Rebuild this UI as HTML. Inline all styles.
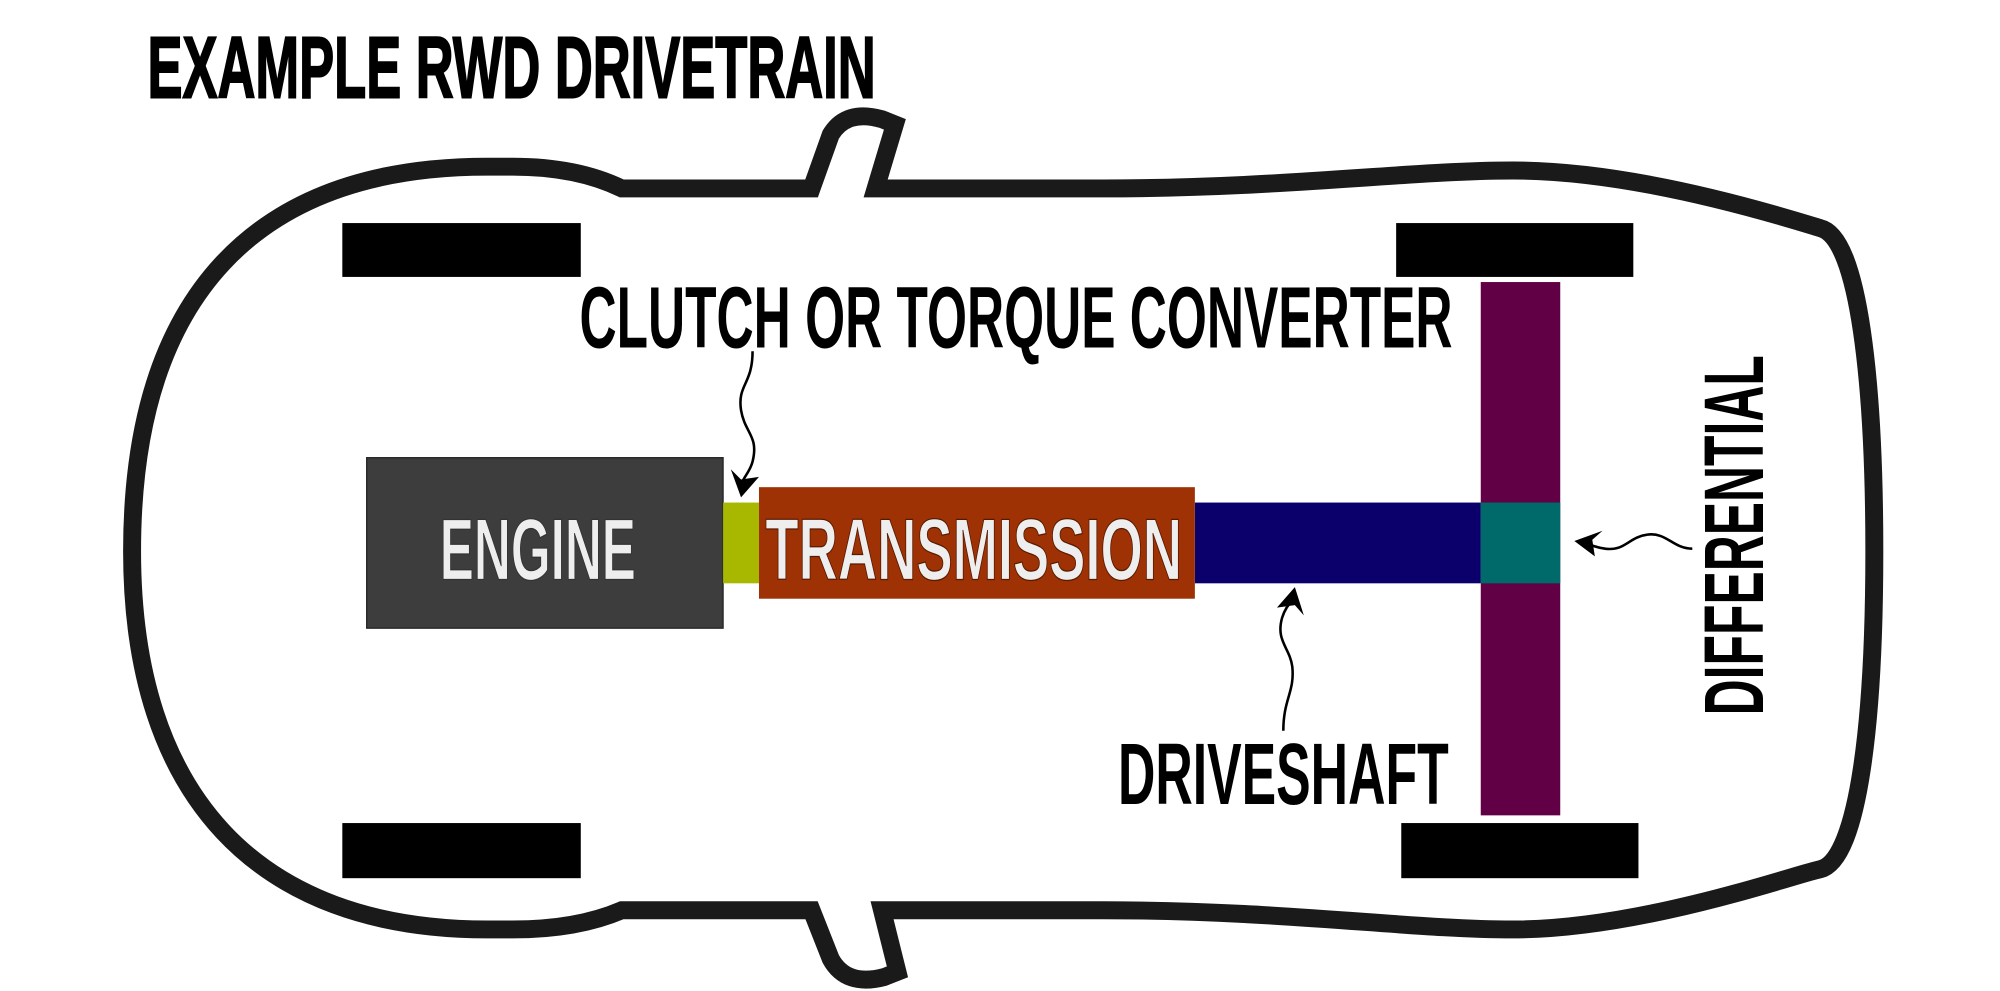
<!DOCTYPE html>
<html><head><meta charset="utf-8"><style>
html,body{margin:0;padding:0;background:#fff;width:2000px;height:991px;overflow:hidden}
svg{display:block}
text{font-family:"Liberation Sans Narrow","Liberation Sans",sans-serif}
</style></head><body>
<svg width="2000" height="991" viewBox="0 0 1560 773" xmlns="http://www.w3.org/2000/svg">
<rect width="1560" height="773" fill="#fff"/>
<text x="115" y="76" font-size="68" font-weight="bold" textLength="568" lengthAdjust="spacingAndGlyphs" fill="#000" stroke="#000" stroke-width="1.5">EXAMPLE RWD DRIVETRAIN</text>
<path d="M 485 147 Q 450 130 400 130 L 380 130 C 200 130 103 230 103 430 C 103 620 200 725 380 725 L 400 725 Q 450 725 485 710 L 633 710 L 648 748 Q 660 770 690 762 L 700 758 L 688 710 L 860 710 C 1000 710 1100 725 1180 725 C 1280 725 1400 682 1420 678 C 1450 670 1462 560 1462 430 C 1462 300 1450 185 1420 178 C 1400 172 1280 133 1180 133 C 1100 133 1000 147 860 147 L 683 147 L 698 97 L 688 93 Q 660 85 648 105 L 633 147 Z" fill="none" stroke="#1a1a1a" stroke-width="14" stroke-linejoin="miter"/>
<rect x="267" y="174" width="186" height="42" fill="#000"/>
<rect x="1089" y="174" width="185" height="42" fill="#000"/>
<rect x="267" y="642" width="186" height="43" fill="#000"/>
<rect x="1093" y="642" width="185" height="43" fill="#000"/>
<rect x="1155" y="220" width="62" height="416" fill="#620046"/>
<rect x="932" y="392" width="223" height="63" fill="#0b006b"/>
<rect x="1155" y="392" width="62" height="63" fill="#00696a"/>
<rect x="286" y="357" width="278" height="133" fill="#3d3d3d" stroke="#222" stroke-width="1"/>
<rect x="564" y="392" width="28" height="63" fill="#a8b800"/>
<rect x="592" y="380" width="340" height="87" fill="#9e3204"/>
<text x="343" y="452" font-size="68" font-weight="bold" textLength="153" lengthAdjust="spacingAndGlyphs" fill="#eee" stroke="#333" stroke-width="1">ENGINE</text>
<text x="597" y="452" font-size="68" font-weight="bold" textLength="325" lengthAdjust="spacingAndGlyphs" fill="#eee" stroke="#5a1a00" stroke-width="1">TRANSMISSION</text>
<text x="452" y="271" font-size="68" font-weight="bold" textLength="681" lengthAdjust="spacingAndGlyphs" fill="#000">CLUTCH OR TORQUE CONVERTER</text>
<text x="872" y="627" font-size="68" font-weight="bold" textLength="258" lengthAdjust="spacingAndGlyphs" fill="#000">DRIVESHAFT</text>
<text transform="translate(1375,558) rotate(-90)" x="0" y="0" font-size="66" font-weight="bold" textLength="281" lengthAdjust="spacingAndGlyphs" fill="#000">DIFFERENTIAL</text>
<g fill="none" stroke="#000" stroke-width="2">
<path d="M 587 274 C 587 300 575 300 578 320 C 581 338 592 340 587 360 C 585 368 580 372 578 378"/>
<path d="M 1001 570 C 1001 545 1010 540 1008 520 C 1006 505 995 500 1000 482 C 1002 475 1006 470 1010 466"/>
<path d="M 1320 428 C 1305 428 1300 415 1285 417 C 1270 419 1268 430 1252 428 C 1245 427 1240 425 1236 423"/>
</g>
<path d="M 578 388 L 570 366 L 578 374 L 592 372 Z" fill="#000"/>
<path d="M 1010 458 L 1017 480 L 1010 472 L 996 474 Z" fill="#000"/>
<path d="M 1228 422 L 1250 414 L 1242 421 L 1244 434 Z" fill="#000"/>
</svg>
</body></html>
